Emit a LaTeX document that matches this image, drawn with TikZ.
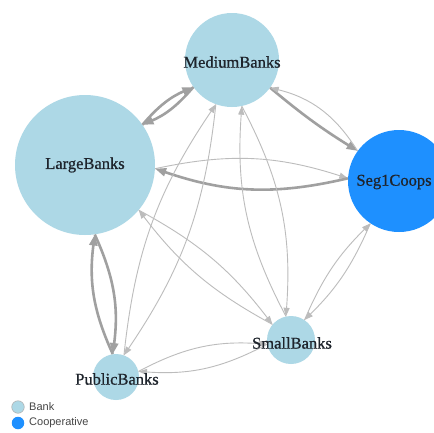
\documentclass[tikz,border=0pt]{standalone}
\usepackage{fontspec}
\setmainfont{Liberation Serif}
\newfontfamily\lblfont{Liberation Serif}[FakeBold=0.8]
\newfontfamily\legendfont{Liberation Sans}
\usetikzlibrary{arrows.meta}
\definecolor{bankblue}{RGB}{173,216,230}
\definecolor{coopblue}{RGB}{30,144,255}
\definecolor{edgegray}{RGB}{160,160,160}
\definecolor{thingray}{RGB}{188,188,188}
\definecolor{labelgray}{RGB}{30,36,44}
\definecolor{legendtext}{RGB}{70,70,70}
\begin{document}
\begin{tikzpicture}[x=1pt,y=-1pt,
  bank/.style={circle,fill=bankblue,inner sep=0pt,minimum size=#1},
  coop/.style={circle,fill=coopblue,inner sep=0pt,minimum size=#1},
  lbl/.style={font=\lblfont\fontsize{16.5}{16.5}\selectfont,text=labelgray,inner sep=0pt},
  thinedge/.style={draw=thingray,line width=0.9pt,-{Triangle[length=8.5pt,width=6pt]}},
  thickedge/.style={draw=edgegray,line width=2.6pt,-{Triangle[length=11pt,width=8pt]}},
  legdot/.style={circle,inner sep=0pt,minimum size=12.5pt},
  legtext/.style={anchor=west,inner sep=0pt,font=\legendfont\fontsize{11}{11}\selectfont,text=legendtext},
]
\useasboundingbox (0,0) rectangle (434,432);
\clip (0,0) rectangle (434,432);
\fill[white] (0,0) rectangle (434,432);

% nodes (circles)
\node[bank=94pt]  (M)  at (232,60)  {};
\node[bank=140pt] (L)  at (85,165)  {};
\node[coop=102pt] (S1) at (399,181) {};
\node[bank=48pt]  (Sm) at (291,340) {};
\node[bank=46pt]  (P)  at (116,377) {};

% edges (each pair shares its two end points on the node borders)
\draw[thickedge] (L.35) to[bend left=13] (M.215);
\draw[thickedge] (M.215) to[bend left=13] (L.35);

\draw[thickedge] (M.-36) to[bend right=4] (S1.144);
\draw[thinedge]  (S1.144) to[bend right=22] (M.-36);

\draw[thinedge]  (L.-3) to[bend left=15] (S1.177);
\draw[thickedge] (S1.177) to[bend left=16] (L.-3);

\draw[thickedge] (L.-82) to[bend left=16] (P.98);
\draw[thickedge] (P.98) to[bend left=16] (L.-82);

\draw[thinedge] (M.-110) to[bend left=14] (P.70);
\draw[thinedge] (P.70) to[bend left=14] (M.-110);

\draw[thinedge] (M.-78) to[bend left=16] (Sm.102);
\draw[thinedge] (Sm.102) to[bend left=16] (M.-78);

\draw[thinedge] (L.-40) to[bend left=12] (Sm.140);
\draw[thinedge] (Sm.140) to[bend left=12] (L.-40);

\draw[thinedge] (S1.-124) to[bend left=11] (Sm.56);
\draw[thinedge] (Sm.56) to[bend left=11] (S1.-124);

\draw[thinedge] (Sm.190) to[bend left=16] (P.14);
\draw[thinedge] (P.14) to[bend left=16] (Sm.190);

% labels
\node[lbl] (tM)  at (232,62)  {MediumBanks};
\node[lbl] (tL)  at (85,165)  {LargeBanks};
\node[lbl] (tS1) at (394,182) {Seg1Coops};
\node[lbl] (tSm) at (292,343) {SmallBanks};
\node[lbl] (tP)  at (117,379) {PublicBanks};

% legend
\node[legdot,fill=bankblue,draw=gray!60,line width=0.6pt] (lb) at (18,407) {};
\node[legtext] (lbt) at (29,407) {Bank};
\node[legdot,fill=coopblue] (lc) at (18,423) {};
\node[legtext] (lct) at (29,423) {Cooperative};
\end{tikzpicture}
\end{document}
